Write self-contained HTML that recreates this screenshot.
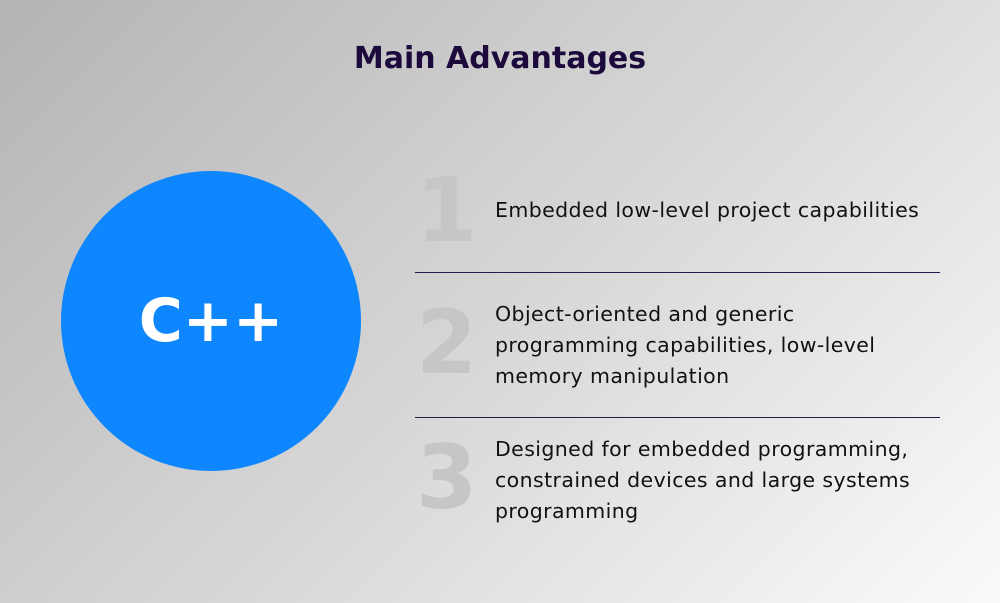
<!DOCTYPE html>
<html><head><meta charset="utf-8"><style>
html,body{margin:0;padding:0;}
body{width:1000px;height:603px;overflow:hidden;position:relative;
background:linear-gradient(135deg,#b4b4b4 0%,#d6d6d6 50%,#fafafa 100%);
font-family:"DejaVu Sans","Liberation Sans",sans-serif;}
.title{position:absolute;top:41px;left:0;width:1000px;text-align:center;font-size:30px;font-weight:bold;color:#1c0a3c;}
.circle{position:absolute;left:61px;top:171px;width:300px;height:300px;border-radius:50%;background:#0d86fe;
display:flex;align-items:center;justify-content:center;color:#fff;font-weight:bold;font-size:60px;}
.num{position:absolute;left:416px;font-size:88px;font-weight:bold;color:#c6c6c6;line-height:1;}
.txt{position:absolute;left:495px;font-size:20.5px;color:#111;line-height:31px;letter-spacing:0.4px;}
.line{position:absolute;left:415px;width:525px;height:1px;background:#2a1a4a;}
</style></head><body>
<div class="title">Main Advantages</div>
<div class="circle">C++</div>
<div class="num" style="top:167px">1</div>
<div class="txt" style="top:195px">Embedded low-level project capabilities</div>
<div class="line" style="top:272px"></div>
<div class="num" style="top:299px">2</div>
<div class="txt" style="top:299px">Object-oriented and generic<br>programming capabilities, low-level<br>memory manipulation</div>
<div class="line" style="top:417px"></div>
<div class="num" style="top:434px">3</div>
<div class="txt" style="top:434px">Designed for embedded programming,<br>constrained devices and large systems<br>programming</div>
</body></html>
